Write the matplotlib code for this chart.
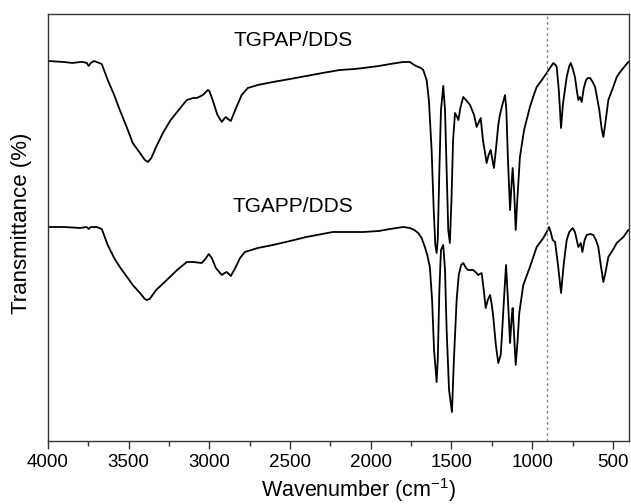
import numpy as np
import matplotlib
matplotlib.use('Agg')
import matplotlib.pyplot as plt
from matplotlib.ticker import MultipleLocator

plt.rcParams['font.family'] = ['Liberation Sans', 'DejaVu Sans']
plt.rcParams['mathtext.fontset'] = 'custom'
plt.rcParams['mathtext.rm'] = 'Liberation Sans'

# TGPAP/DDS spectrum (wavenumber, transmittance a.u.)
wn_top = [4000, 3900, 3850, 3800, 3785, 3760, 3748, 3735, 3715, 3698, 3667, 3630, 3590, 3555,
          3510, 3475, 3430, 3400, 3381, 3360, 3330, 3288, 3240, 3190, 3140, 3100, 3078, 3040,
          3010, 3000, 2980, 2950, 2923, 2910, 2898, 2885, 2867, 2840, 2800, 2762, 2700, 2607,
          2500, 2400, 2300, 2192, 2100, 2047, 1950, 1880, 1840, 1800, 1758, 1740, 1720, 1704,
          1690, 1675, 1654, 1640, 1623, 1610, 1600, 1592, 1585, 1575, 1565, 1551, 1540, 1530,
          1520, 1510, 1500, 1490, 1478, 1468, 1457, 1445, 1427, 1410, 1385, 1360, 1344, 1330,
          1319, 1305, 1282, 1270, 1257, 1248, 1237, 1225, 1210, 1200, 1185, 1168, 1160, 1150,
          1137, 1128, 1121, 1112, 1102, 1092, 1076, 1050, 1014, 990, 972, 940, 910, 890, 869,
          855, 848, 835, 821, 810, 786, 770, 761, 750, 735, 722, 714, 703, 693, 680, 666, 655,
          641, 625, 610, 595, 584, 570, 559, 548, 528, 500, 476, 455, 435, 420, 404]
px_top = [61, 62, 63, 62, 62, 63, 66, 63, 61, 62, 64, 80, 95, 110,
          128, 143, 153, 160, 162, 158, 147, 133, 120, 110, 100, 98, 98, 95,
          90, 91, 100, 115, 122, 119, 117, 119, 121, 110, 95, 88, 85, 82,
          79, 76, 73, 70, 69, 68, 66, 64, 63, 62, 62, 64, 66, 67,
          68, 70, 80, 100, 150, 210, 245, 253, 240, 170, 110, 86, 110, 170,
          230, 243, 200, 140, 113, 116, 120, 108, 97, 100, 105, 115, 127, 122,
          118, 140, 163, 155, 150, 158, 168, 150, 125, 115, 105, 95, 110, 160,
          210, 185, 168, 190, 230, 200, 157, 130, 107, 95, 87, 80, 73, 68, 63,
          65, 67, 90, 128, 105, 77, 66, 63, 68, 77, 92, 100, 97, 102, 88, 80, 78,
          78, 82, 87, 100, 110, 128, 137, 125, 100, 88, 77, 72, 68, 65, 62]

# TGAPP/DDS spectrum
wn_bot = [4000, 3900, 3800, 3760, 3748, 3735, 3698, 3667, 3630, 3590, 3555, 3510, 3475, 3430,
          3400, 3388, 3370, 3330, 3264, 3200, 3140, 3100, 3047, 3020, 3004, 2985, 2960, 2923,
          2905, 2893, 2880, 2867, 2840, 2810, 2780, 2700, 2607, 2500, 2400, 2235, 2150, 2047,
          1950, 1881, 1840, 1799, 1758, 1730, 1706, 1685, 1665, 1650, 1634, 1620, 1608, 1592,
          1585, 1575, 1565, 1551, 1540, 1530, 1515, 1497, 1485, 1468, 1455, 1440, 1427, 1410,
          1396, 1380, 1365, 1345, 1334, 1313, 1300, 1288, 1275, 1261, 1250, 1241, 1225, 1210,
          1195, 1189, 1175, 1162, 1150, 1137, 1128, 1121, 1112, 1102, 1090, 1080, 1055, 1014,
          972, 931, 910, 896, 885, 873, 858, 840, 821, 805, 786, 770, 749, 735, 724, 714, 699,
          689, 675, 662, 640, 621, 605, 590, 575, 559, 545, 528, 500, 476, 455, 435, 404]
px_bot = [227, 227, 228, 227, 229, 227, 227, 229, 245, 258, 267, 277, 285, 293,
          299, 300, 299, 290, 280, 270, 262, 262, 263, 258, 254, 258, 268, 275,
          273, 272, 274, 276, 268, 258, 252, 248, 245, 241, 237, 232, 232, 232,
          231, 229, 228, 227, 228, 230, 233, 238, 247, 255, 267, 300, 350, 382,
          360, 290, 250, 245, 270, 330, 390, 412, 360, 300, 275, 265, 263, 268,
          270, 270, 270, 273, 275, 273, 290, 308, 300, 295, 305, 317, 345, 363,
          355, 340, 300, 265, 300, 343, 320, 308, 335, 365, 340, 313, 285, 267,
          247, 238, 232, 227, 232, 240, 242, 265, 293, 265, 240, 232, 228, 232, 240, 247, 243,
          252, 240, 235, 234, 235, 240, 247, 265, 282, 272, 257, 250, 243, 240, 237, 230]

labels = ['TGPAP/DDS', 'TGAPP/DDS']
marker_wn = 908

# pixel rows -> transmittance (arbitrary units)
t_top = 441 - np.array(px_top)
t_bot = 441 - np.array(px_bot)

fig = plt.figure(figsize=(6.31, 5.04), dpi=100)
ax = fig.add_axes([48 / 631, 1 - 441 / 504, 581 / 631, 427 / 504])

ax.plot(wn_top, t_top, color='black', lw=1.3)
ax.plot(wn_bot, t_bot, color='black', lw=1.3)
ax.axvline(marker_wn, color='#888888', lw=1.0, ls=(0, (2, 2)))

ax.text(2483, 400, labels[0], ha='center', va='center', fontsize=15)
ax.text(2483, 234, labels[1], ha='center', va='center', fontsize=15)

ax.set_xlim(4000, 400)
ax.set_ylim(0, 427)
ax.xaxis.set_major_locator(MultipleLocator(500))
ax.xaxis.set_minor_locator(MultipleLocator(250))
ax.tick_params(axis='x', which='major', length=6, width=1, labelsize=13.5,
               direction='out', color='#333333')
ax.tick_params(axis='x', which='minor', length=3.5, width=1, direction='out', color='#333333')
ax.set_yticks([])
for s in ax.spines.values():
    s.set_linewidth(1.0)
    s.set_color('#333333')

ax.set_xlabel('Wavenumber (cm$^{-1}$)', fontsize=15.5)
ax.xaxis.set_label_coords(0.534, -0.083)
ax.set_ylabel('Transmittance (%)', fontsize=16)
ax.yaxis.set_label_coords(-0.028, 0.51)

fig.savefig('out.png', dpi=100)
